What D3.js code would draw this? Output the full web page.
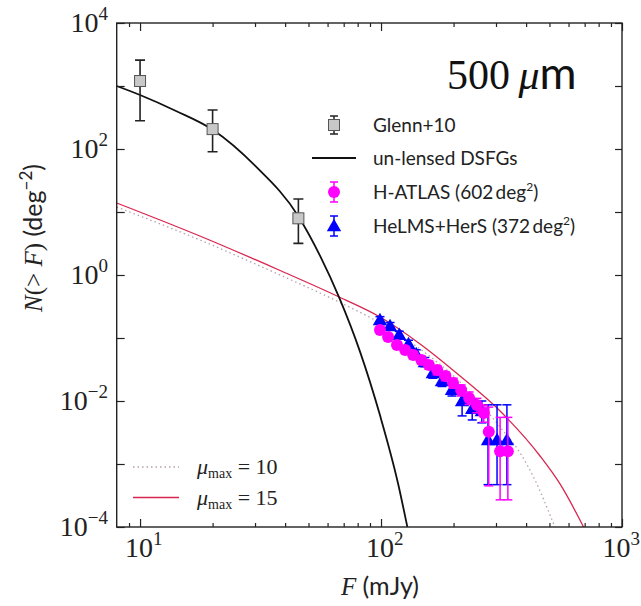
<!DOCTYPE html>
<html>
<head>
<meta charset="utf-8">
<script src="https://cdn.jsdelivr.net/npm/d3@7"></script>
<style>
  html, body { margin: 0; padding: 0; background: #fff; }
  svg { display: block; }
</style>
</head>
<body>
<script>
// Glenn+10 counts (mJy, deg^-2) with error bars
const glennF  = [10, 20, 45.4];
const glennN  = [1200, 207, 7.94];
const glennLo = [281, 90.6, 3.18];
const glennHi = [2570, 416, 16.1];

// un-lensed DSFG model counts
const unlensedF = [8, 10, 14.1, 20.1, 30.0, 45.3, 55.8, 67.0, 81.8, 99.1, 117.8, 128.2, 134.6];
const unlensedN = [1000, 720, 401, 200, 54.3, 8.65, 2.03, 0.441, 0.0608, 0.00586, 0.000482, 0.000106, 0.0000427];

// lensed model, mu_max = 15
const mu15F = [8, 17.7, 38.1, 67, 99.1, 145.2, 212.8, 311.9, 457, 553, 689, 736];
const mu15N = [13.9, 4.16, 1.18, 0.448, 0.215, 0.0804, 0.0249, 0.00693, 0.00134, 0.000482, 0.000104, 0.000063];

// lensed model, mu_max = 10
const mu10F = [8, 17.7, 38.1, 67, 99.1, 145.2, 212.8, 257.6, 311.9, 377.6, 435.5, 493.2, 553];
const mu10N = [12.0, 3.60, 1.0, 0.372, 0.173, 0.0668, 0.0200, 0.00929, 0.00386, 0.00150, 0.000557, 0.000186, 0.0000622];

// H-ATLAS (602 deg^2)
const hatlasF  = [99, 107, 116.5, 126, 136, 147, 158, 171, 185, 199, 215, 232, 250, 267, 280, 312, 336];
const hatlasN  = [0.134, 0.104, 0.0775, 0.0645, 0.0537, 0.0447, 0.0373, 0.0310, 0.0249, 0.0193, 0.0150, 0.0112, 0.00865, 0.00645, 0.00325, 0.0016, 0.0016];
const hatlasLo = [0.121, 0.093, 0.069, 0.057, 0.047, 0.039, 0.032, 0.026, 0.021, 0.016, 0.012, 0.0088, 0.0065, 0.0046, 0.00045, 0.00027, 0.00027];
const hatlasHi = [0.148, 0.116, 0.087, 0.073, 0.061, 0.051, 0.043, 0.036, 0.029, 0.023, 0.018, 0.0139, 0.0110, 0.0086, 0.0080, 0.0055, 0.0055];

// HeLMS+HerS (372 deg^2)
const helmsF  = [99, 109, 119, 130, 140, 152, 164, 179, 197, 217, 239, 262, 278, 303, 333];
const helmsN  = [0.193, 0.155, 0.112, 0.080, 0.0557, 0.0416, 0.0278, 0.0207, 0.0150, 0.0100, 0.0075, 0.0069, 0.0024, 0.0024, 0.0024];
const helmsLo = [0.170, 0.136, 0.098, 0.069, 0.047, 0.035, 0.023, 0.017, 0.012, 0.0058, 0.0050, 0.0045, 0.00047, 0.00047, 0.00047];
const helmsHi = [0.218, 0.176, 0.128, 0.092, 0.065, 0.049, 0.033, 0.025, 0.019, 0.0125, 0.0105, 0.0100, 0.0087, 0.0087, 0.0087];

// axis ticks
const xMajor = [10, 100, 1000];
const xMinor = [9, 20, 30, 40, 50, 60, 70, 80, 90, 200, 300, 400, 500, 600, 700, 800, 900];
const yMajor = [1e-4, 1e-3, 1e-2, 1e-1, 1, 10, 100, 1000, 10000];
const xLabelExp = [1, 2, 3];
const yLabelExp = [-4, -2, 0, 2, 4];

const SERIF = "'Liberation Serif', 'DejaVu Serif', serif";
const SANS = "Lato, 'DejaVu Sans', sans-serif";

const W = 641, H = 606;
const L = 116.7, R = 622, T = 23, B = 527;

const x = d3.scaleLog().domain([8, 1000]).range([L, R]);
const y = d3.scaleLog().domain([1e-4, 1e4]).range([B, T]);

const svg = d3.select("body").append("svg").attr("width", W).attr("height", H);

svg.append("defs").append("clipPath").attr("id", "plotclip")
  .append("rect").attr("x", L).attr("y", T).attr("width", R - L).attr("height", B - T);

const plot = svg.append("g").attr("clip-path", "url(#plotclip)");

const toPts = (F, N) => F.map((f, i) => [f, N[i]]);
const line = d3.line().x(d => x(d[0])).y(d => y(d[1])).curve(d3.curveMonotoneX);

// model curves
plot.append("path").attr("d", line(toPts(mu10F, mu10N)))
  .attr("fill", "none").attr("stroke", "#b8a0ac").attr("stroke-width", 1.3)
  .attr("stroke-dasharray", "1.5,3");
plot.append("path").attr("d", line(toPts(mu15F, mu15N)))
  .attr("fill", "none").attr("stroke", "#d8264f").attr("stroke-width", 1.3);
plot.append("path").attr("d", line(toPts(unlensedF, unlensedN)))
  .attr("fill", "none").attr("stroke", "#111").attr("stroke-width", 1.8);

// error bar helper
function errorBars(g, F, lo, hi, color, cap, width) {
  F.forEach((f, i) => {
    const cx = x(f);
    g.append("line").attr("x1", cx).attr("x2", cx).attr("y1", y(lo[i])).attr("y2", y(hi[i]))
      .attr("stroke", color).attr("stroke-width", width);
    [lo[i], hi[i]].forEach(v => {
      g.append("line").attr("x1", cx - cap).attr("x2", cx + cap).attr("y1", y(v)).attr("y2", y(v))
        .attr("stroke", color).attr("stroke-width", width);
    });
  });
}

const triangle = d3.symbol().type(d3.symbolTriangle).size(90);

// HeLMS+HerS
errorBars(plot, helmsF, helmsLo, helmsHi, "#0000ff", 4.5, 1.5);
plot.selectAll("path.helms").data(helmsF).join("path").attr("class", "helms")
  .attr("d", triangle)
  .attr("transform", (f, i) => `translate(${x(f)},${y(helmsN[i]) + 1})`)
  .attr("fill", "#0000ff");

// H-ATLAS
errorBars(plot, hatlasF, hatlasLo, hatlasHi, "#ff00ff", 4.5, 1.5);
plot.selectAll("circle.hatlas").data(hatlasF).join("circle").attr("class", "hatlas")
  .attr("cx", f => x(f)).attr("cy", (f, i) => y(hatlasN[i])).attr("r", 6)
  .attr("fill", "#ff00ff");

// Glenn+10
errorBars(plot, glennF, glennLo, glennHi, "#222", 5, 1.6);
plot.selectAll("rect.glenn").data(glennF).join("rect").attr("class", "glenn")
  .attr("x", f => x(f) - 5.5).attr("y", (f, i) => y(glennN[i]) - 5.5)
  .attr("width", 11).attr("height", 11)
  .attr("fill", "#c8c8c8").attr("stroke", "#555").attr("stroke-width", 1);

// axes: inward ticks on all four sides
function styleAxis(g) {
  g.select(".domain").remove();
  g.selectAll(".tick line").attr("stroke", "#222").attr("stroke-width", 1.2);
  g.selectAll(".tick text").remove();
}
svg.append("g").attr("transform", `translate(0,${B})`)
  .call(d3.axisBottom(x).tickValues(xMajor).tickSize(-8).tickFormat("")).call(styleAxis);
svg.append("g").attr("transform", `translate(0,${B})`)
  .call(d3.axisBottom(x).tickValues(xMinor).tickSize(-4).tickFormat("")).call(styleAxis);
svg.append("g").attr("transform", `translate(0,${T})`)
  .call(d3.axisTop(x).tickValues(xMajor).tickSize(-8).tickFormat("")).call(styleAxis);
svg.append("g").attr("transform", `translate(0,${T})`)
  .call(d3.axisTop(x).tickValues(xMinor).tickSize(-4).tickFormat("")).call(styleAxis);
svg.append("g").attr("transform", `translate(${L},0)`)
  .call(d3.axisLeft(y).tickValues(yMajor).tickSize(-8).tickFormat("")).call(styleAxis);
svg.append("g").attr("transform", `translate(${R},0)`)
  .call(d3.axisRight(y).tickValues(yMajor).tickSize(-7).tickFormat("")).call(styleAxis);

// frame
svg.append("rect").attr("x", L).attr("y", T).attr("width", R - L).attr("height", B - T)
  .attr("fill", "none").attr("stroke", "#222").attr("stroke-width", 1.4);

// tick labels 10^n
function powLabel(px, py, exp, anchor) {
  const t = svg.append("text").attr("font-family", SERIF).attr("x", px).attr("y", py)
    .attr("text-anchor", anchor).attr("font-size", 28).attr("fill", "#222");
  t.append("tspan").text("10");
  t.append("tspan").attr("dy", -12).attr("font-size", 19).text(String(exp).replace("-", "\u2212"));
  return t;
}
xLabelExp.forEach(e => {
  const t = powLabel(x(Math.pow(10, e)) - 15, 557, e, "start");
  const w = t.node().getComputedTextLength();
  const start = Math.min(x(Math.pow(10, e)) - 15, W - 1 - w);
  t.attr("x", start);
});
yLabelExp.forEach(e => powLabel(108, y(Math.pow(10, e)) + 9, e, "end"));

// axis titles
const xt = svg.append("text").attr("x", 380).attr("y", 595).attr("text-anchor", "middle")
  .attr("font-size", 25).attr("fill", "#222");
xt.append("tspan").attr("font-family", SERIF).attr("font-style", "italic").text("F");
xt.append("tspan").attr("font-family", SANS).text(" (mJy)");

const yt = svg.append("text").attr("transform", "translate(42,238) rotate(-90)")
  .attr("text-anchor", "middle").attr("font-size", 25).attr("fill", "#222");
yt.append("tspan").attr("font-family", SERIF).attr("font-style", "italic").text("N");
yt.append("tspan").attr("font-family", SERIF).text("(> ");
yt.append("tspan").attr("font-family", SERIF).attr("font-style", "italic").text("F");
yt.append("tspan").attr("font-family", SERIF).text(")");
yt.append("tspan").attr("font-family", SANS).text(" (deg");
yt.append("tspan").attr("font-family", SANS).attr("dy", -10).attr("font-size", 17).text("\u22122");
yt.append("tspan").attr("font-family", SANS).attr("dy", 10).text(")");

// band title
const title = svg.append("text").attr("x", 447).attr("y", 89).attr("fill", "#111");
title.append("tspan").attr("font-family", SERIF).attr("font-size", 42).text("500\u2009");
title.append("tspan").attr("font-family", SERIF).attr("font-size", 42).attr("font-style", "italic").text("\u03bc");
title.append("tspan").attr("font-family", SANS).attr("font-size", 45).text("m");

// upper legend
const lg = svg.append("g");
const legX = 334, legTextX = 373;
const legY = [125, 158, 192, 226];
// Glenn+10
lg.append("line").attr("x1", legX).attr("x2", legX).attr("y1", legY[0] - 9).attr("y2", legY[0] + 9).attr("stroke", "#222").attr("stroke-width", 1.5);
[-9, 9].forEach(d => lg.append("line").attr("x1", legX - 4).attr("x2", legX + 4).attr("y1", legY[0] + d).attr("y2", legY[0] + d).attr("stroke", "#222").attr("stroke-width", 1.5));
lg.append("rect").attr("x", legX - 5.5).attr("y", legY[0] - 5.5).attr("width", 11).attr("height", 11)
  .attr("fill", "#c8c8c8").attr("stroke", "#555");
// un-lensed line
lg.append("line").attr("x1", 312).attr("x2", 356).attr("y1", legY[1]).attr("y2", legY[1]).attr("stroke", "#111").attr("stroke-width", 1.8);
// H-ATLAS
lg.append("line").attr("x1", legX).attr("x2", legX).attr("y1", legY[2] - 10).attr("y2", legY[2] + 10).attr("stroke", "#ff00ff").attr("stroke-width", 1.5);
[-10, 10].forEach(d => lg.append("line").attr("x1", legX - 4).attr("x2", legX + 4).attr("y1", legY[2] + d).attr("y2", legY[2] + d).attr("stroke", "#ff00ff").attr("stroke-width", 1.5));
lg.append("circle").attr("cx", legX).attr("cy", legY[2]).attr("r", 6).attr("fill", "#ff00ff");
// HeLMS
lg.append("line").attr("x1", legX).attr("x2", legX).attr("y1", legY[3] - 10).attr("y2", legY[3] + 10).attr("stroke", "#0000ff").attr("stroke-width", 1.5);
[-10, 10].forEach(d => lg.append("line").attr("x1", legX - 4).attr("x2", legX + 4).attr("y1", legY[3] + d).attr("y2", legY[3] + d).attr("stroke", "#0000ff").attr("stroke-width", 1.5));
lg.append("path").attr("d", triangle).attr("transform", `translate(${legX},${legY[3] + 1})`).attr("fill", "#0000ff");

const legLabels = ["Glenn+10", "un-lensed DSFGs", "H-ATLAS (602\u2009deg", "HeLMS+HerS (372\u2009deg"];
legLabels.forEach((s, i) => {
  const t = lg.append("text").attr("font-family", SANS).attr("x", legTextX).attr("y", legY[i] + 7)
    .attr("font-size", 19).attr("fill", "#222");
  t.append("tspan").text(s);
  if (i >= 2) {
    t.append("tspan").attr("dy", -8).attr("font-size", 12).text("2");
    t.append("tspan").attr("dy", 8).text(")");
  }
});

// lower-left legend for the lensing models
const ll = svg.append("g");
ll.append("line").attr("x1", 133).attr("x2", 179).attr("y1", 467).attr("y2", 467)
  .attr("stroke", "#b8a0ac").attr("stroke-width", 1.3).attr("stroke-dasharray", "1.5,3");
ll.append("line").attr("x1", 133).attr("x2", 179).attr("y1", 497.5).attr("y2", 497.5)
  .attr("stroke", "#d8264f").attr("stroke-width", 1.3);
[["10", 474], ["15", 505]].forEach(([v, yy]) => {
  const t = ll.append("text").attr("font-family", SERIF).attr("x", 197).attr("y", yy)
    .attr("font-size", 22).attr("fill", "#222");
  t.append("tspan").attr("font-style", "italic").text("\u03bc");
  t.append("tspan").attr("dy", 4).attr("font-size", 14).text("max");
  t.append("tspan").attr("dy", -4).text(" = " + v);
});
</script>
</body>
</html>
